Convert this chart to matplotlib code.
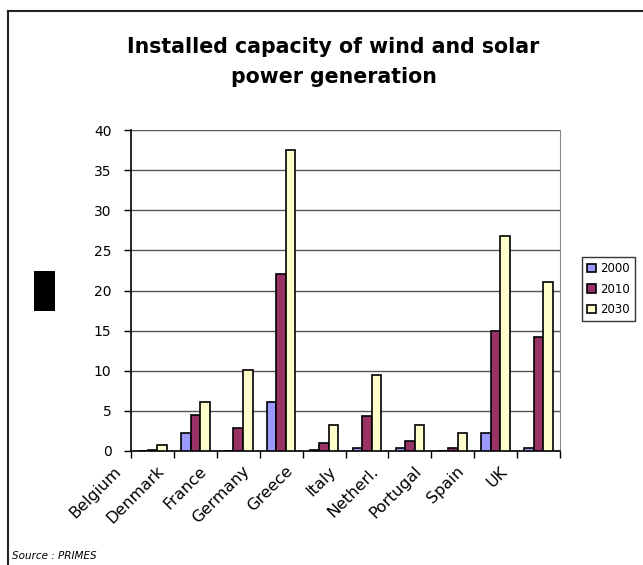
import matplotlib
matplotlib.use("Agg")
import matplotlib.pyplot as plt
import numpy as np
from matplotlib.patches import Rectangle
from matplotlib.lines import Line2D
import matplotlib.transforms as mtransforms

plt.rcParams['font.family'] = ['DejaVu Sans']

countries = ["Belgium", "Denmark", "France", "Germany", "Greece",
             "Italy", "Netherl.", "Portugal", "Spain", "UK"]
years = ["2000", "2010", "2030"]
cap_2000 = [0.05, 2.25, 0.0, 6.15, 0.15, 0.35, 0.35, 0.0, 2.3, 0.35]
cap_2010 = [0.15, 4.5, 2.9, 22.05, 1.05, 4.35, 1.2, 0.35, 15.0, 14.2]
cap_2030 = [0.8, 6.15, 10.1, 37.5, 3.3, 9.5, 3.3, 2.3, 26.8, 21.0]
colors = ["#9999FF", "#993366", "#FFFFCC"]
yticks = [0, 5, 10, 15, 20, 25, 30, 35, 40]

W, H = 643, 565
fig = plt.figure(figsize=(W / 100, H / 100), dpi=100)
fig.patch.set_facecolor("white")

ax = fig.add_axes([131 / W, 1 - 451 / H, 429 / W, 321 / H])

x = np.arange(len(countries))
bw = 0.222
for i, (vals, c, lab) in enumerate(zip([cap_2000, cap_2010, cap_2030], colors, years)):
    ax.bar(x + (i - 1) * bw, vals, width=bw, color=c, edgecolor="black",
           linewidth=1.2, label=lab, zorder=3)

ax.set_xlim(-0.5, len(countries) - 0.5)
ax.set_ylim(0, 40)
ax.set_yticks(yticks)
ax.set_yticklabels([str(v) for v in yticks], fontsize=10)
ax.yaxis.grid(True, color="#555555", linewidth=1.0, zorder=0)
ax.set_axisbelow(True)

# category boundaries carry the x ticks
ax.set_xticks(np.arange(-0.5, len(countries) + 0.5, 1.0))
ax.set_xticklabels([])
ax.set_xticks(x, minor=True)
ax.set_xticklabels(countries, minor=True, rotation=45, fontsize=11.5,
                   ha="right", va="top", rotation_mode="anchor")
ax.tick_params(axis="x", which="minor", length=0, pad=9)
offset = mtransforms.ScaledTranslation(-39 / 100, 0, fig.dpi_scale_trans)
for t in ax.get_xticklabels(minor=True):
    t.set_transform(t.get_transform() + offset)
ax.tick_params(axis="x", which="major", length=5, width=1, color="black", direction="out")
ax.tick_params(axis="y", length=5, width=1, color="black", direction="out", pad=9)

ax.spines["top"].set_visible(False)
ax.spines["right"].set_color("#888888")
ax.spines["left"].set_color("black")
ax.spines["bottom"].set_color("black")
ax.spines["left"].set_linewidth(1.2)
ax.spines["bottom"].set_linewidth(1.2)

fig.text(333 / W, 1 - 53 / H, "Installed capacity of wind and solar",
         ha="center", va="baseline", fontsize=14.8, fontweight="bold")
fig.text(334 / W, 1 - 83 / H, "power generation",
         ha="center", va="baseline", fontsize=14.8, fontweight="bold")

fig.text(12 / W, 1 - 559 / H, "Source : PRIMES", fontsize=7.5, style="italic",
         ha="left", va="baseline")

# frame lines on the left and top of the chart area
fig.add_artist(Line2D([8 / W, 8 / W], [0, 1 - 11 / H], transform=fig.transFigure,
                      color="#222222", linewidth=1.5))
fig.add_artist(Line2D([8 / W, 1], [1 - 11 / H, 1 - 11 / H], transform=fig.transFigure,
                      color="#222222", linewidth=1.5))

# solid block left of the value axis
fig.add_artist(Rectangle((34 / W, 1 - 311 / H), 21 / W, 40 / H,
                         transform=fig.transFigure, facecolor="black", edgecolor="none"))

leg = fig.legend(loc="upper left", bbox_to_anchor=(582 / W, 1 - 257 / H),
                 fontsize=8.5, frameon=True, fancybox=False, edgecolor="black",
                 handlelength=0.7, handleheight=0.7, handletextpad=0.4,
                 borderpad=0.45, labelspacing=0.62, borderaxespad=0)
leg.get_frame().set_linewidth(1.0)

fig.savefig("out.png", dpi=100, facecolor="white")
